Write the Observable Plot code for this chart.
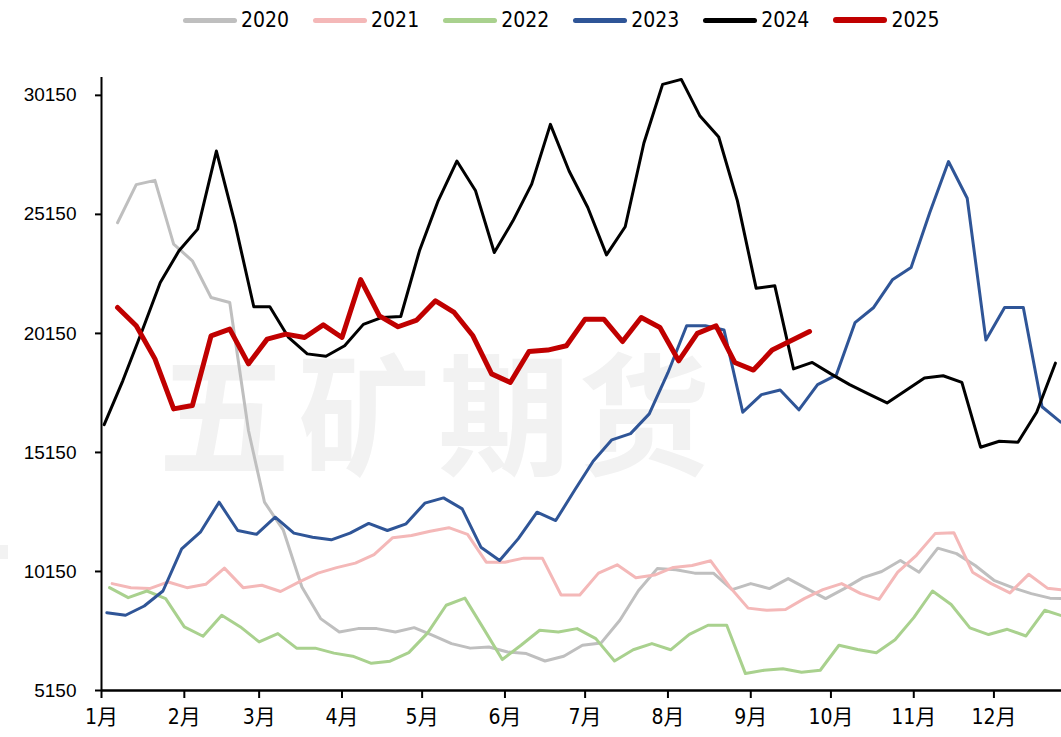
<!DOCTYPE html>
<html>
<head>
<meta charset="utf-8">
<script src="https://cdn.jsdelivr.net/npm/d3@7"></script>
<script src="https://cdn.jsdelivr.net/npm/@observablehq/plot@0.6"></script>
<style>
html, body { margin: 0; padding: 0; background: #fff; }
#wrap { position: relative; width: 1061px; height: 737px; overflow: hidden; background: #fff; }
#wm { position: absolute; left: 158px; top: 342px; font-family: "Noto Sans CJK SC", sans-serif; font-weight: 700;
      font-size: 132px; line-height: 1; color: #f2f2f2; letter-spacing: 8px; white-space: nowrap; }
#wmblock { position: absolute; left: 0; top: 545px; width: 8px; height: 14px; background: #f2f2f2; }
#chart { position: absolute; left: 0; top: 0; }
#legend { position: absolute; left: 183px; top: 8px; display: flex; align-items: center;
          font-family: "Liberation Sans Narrow", "DejaVu Sans Condensed", sans-serif; font-size: 21px; color: #000; }
.item { display: flex; align-items: center; margin-right: 24px; }
.sw { width: 54px; border-radius: 3px; margin-right: 4px; }
</style>
</head>
<body>
<div id="wrap">
  <div id="wm">五矿期货</div>
  <div id="wmblock"></div>
  <div id="chart"></div>
  <div id="legend"></div>
</div>
<script>
const years = ["2020", "2021", "2022", "2023", "2024", "2025"];
const colors = ["#BFBFBF", "#F4B8B8", "#A9D18E", "#2F5597", "#000000", "#C00000"];
const widths = [3, 3, 3, 3, 3, 5];
const legendWidths = [5, 5, 5, 5, 5, 6];
// first weekly observation (Tuesday) of each year
const firstDates = ["2020-01-07", "2021-01-05", "2022-01-04", "2023-01-03", "2024-01-02", "2025-01-07"];

const v2020 = [24800, 26400, 26580, 23900, 23200, 21660, 21450, 16070, 13060, 11900,
  9500, 8170, 7610, 7750, 7750, 7610, 7790, 7470, 7120, 6930,
  6980, 6770, 6700, 6390, 6590, 7050, 7150, 8100, 9350, 10270,
  10220, 10080, 10080, 9390, 9640, 9430, 9850, 9430, 9010, 9430,
  9890, 10150, 10610, 10120, 11130, 10900, 10400, 9780, 9470, 9220,
  9030, 9000];
const v2021 = [9640, 9470, 9430, 9710, 9470, 9610, 10290, 9470, 9570, 9310,
  9710, 10080, 10310, 10500, 10860, 11570, 11660, 11840, 11990, 11710,
  10540, 10540, 10710, 10710, 9160, 9160, 10080, 10430, 9890, 10000,
  10320, 10400, 10600, 9520, 8610, 8520, 8550, 9010, 9390, 9640,
  9230, 8980, 10120, 10830, 11740, 11780, 10120, 9640, 9250, 10030,
  9450, 9360];
const v2022 = [9470, 9050, 9330, 9010, 7820, 7430, 8310, 7820, 7190, 7540,
  6930, 6930, 6720, 6590, 6290, 6380, 6740, 7560, 8730, 9030,
  7750, 6450, 7050, 7680, 7610, 7750, 7330, 6390, 6860, 7120,
  6860, 7510, 7890, 7890, 5860, 6000, 6060, 5920, 6000, 7050,
  6870, 6740, 7280, 8210, 9330, 8760, 7780, 7500, 7720, 7440,
  8520, 8270];
const v2023 = [8420, 8310, 8700, 9330, 11100, 11800, 13060, 11870, 11710, 12430,
  11760, 11590, 11480, 11760, 12170, 11870, 12150, 13020, 13240, 12780,
  11170, 10610, 11530, 12640, 12290, 13550, 14780, 15680, 15940, 16770,
  18500, 20470, 20470, 20290, 16840, 17580, 17770, 16940, 18000, 18400,
  20600, 21240, 22400, 22920, 25230, 27370, 25830, 19870, 21240, 21240,
  17070, 16420];
const v2024 = [16320, 18170, 20200, 22290, 23620, 24530, 27810, 24750, 21270, 21270,
  19980, 19290, 19190, 19630, 20530, 20820, 20860, 23620, 25720, 27390,
  26140, 23550, 24880, 26420, 28930, 26970, 25440, 23450, 24630, 28150,
  30610, 30820, 29280, 28400, 25720, 22050, 22150, 18660, 18930, 18450,
  18000, 17610, 17230, 17750, 18280, 18370, 18090, 15370, 15620, 15580,
  16840, 18900];
const v2025 = [21240, 20470, 19080, 16980, 17120, 20050, 20330, 18870, 19910, 20120,
  19980, 20510, 19980, 22410, 20890, 20430, 20710, 21520, 21030, 20050,
  18450, 18090, 19390, 19450, 19630, 20750, 20750, 19810, 20820, 20400,
  19000, 20150, 20470, 18930, 18610, 19450, 19840, 20230];

const monthLabels = ["1月", "2月", "3月", "4月", "5月", "6月", "7月", "8月", "9月", "10月", "11月", "12月"];
const yTicks = [5150, 10150, 15150, 20150, 25150, 30150];

const seriesValues = [v2020, v2021, v2022, v2023, v2024, v2025];
const BASE = 2021;
const rows = [];
years.forEach((yr, i) => {
  const start = new Date(firstDates[i] + "T00:00:00Z");
  seriesValues[i].forEach((v, k) => {
    const d = d3.utcDay.offset(start, 7 * k);
    rows.push({ year: yr, date: new Date(Date.UTC(BASE, d.getUTCMonth(), d.getUTCDate())), value: v });
  });
});
const monthDates = monthLabels.map((_, m) => new Date(Date.UTC(BASE, m, 1)));
const xStart = new Date(Date.UTC(BASE, 0, 1));
const xEnd = new Date(Date.UTC(BASE, 11, 26, 7));

const narrow = "'Liberation Sans Narrow', 'DejaVu Sans Condensed', 'Noto Sans CJK SC', sans-serif";

const chart = Plot.plot({
  width: 1061,
  height: 737,
  marginLeft: 101,
  marginRight: 0,
  marginTop: 77,
  marginBottom: 47,
  style: { background: "transparent", overflow: "hidden" },
  x: { type: "utc", domain: [xStart, xEnd], label: null },
  y: { domain: [5150, 30900], label: null },
  marks: [
    Plot.axisY({ ticks: yTicks, tickSize: 6, tickPadding: 19, tickFormat: d => String(d), label: null,
      fontSize: 19, fontFamily: "'Liberation Sans', Arial, sans-serif", strokeWidth: 2, color: "#000" }),
    Plot.axisX({ ticks: monthDates, tickSize: 8, tickPadding: 11, tickFormat: d => monthLabels[d.getUTCMonth()], label: null,
      fontSize: 21, fontFamily: narrow, strokeWidth: 2, color: "#000" }),
    ...years.map((yr, i) => Plot.line(rows.filter(r => r.year === yr), {
      x: "date", y: "value", stroke: colors[i], strokeWidth: widths[i],
      strokeLinejoin: "round", strokeLinecap: "round"
    })),
    Plot.ruleX([xStart], { stroke: "#000", strokeWidth: 2 }),
    Plot.ruleY([5150], { stroke: "#000", strokeWidth: 2.5 })
  ]
});
document.getElementById("chart").appendChild(chart);

const legend = document.getElementById("legend");
years.forEach((yr, i) => {
  const it = document.createElement("div");
  it.className = "item";
  const sw = document.createElement("div");
  sw.className = "sw";
  sw.style.height = legendWidths[i] + "px";
  sw.style.background = colors[i];
  const tx = document.createElement("span");
  tx.textContent = yr;
  it.appendChild(sw);
  it.appendChild(tx);
  legend.appendChild(it);
});
</script>
</body>
</html>
